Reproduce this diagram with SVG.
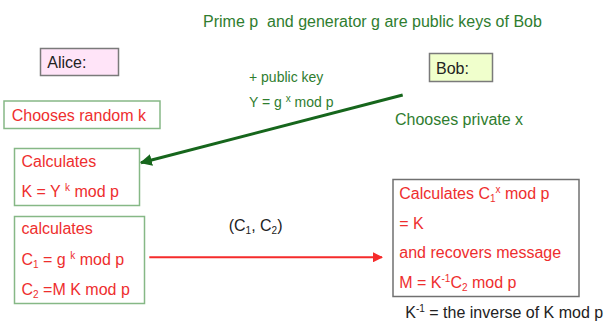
<svg xmlns="http://www.w3.org/2000/svg" width="611" height="323" viewBox="0 0 611 323">
<style>
text{font-family:"Liberation Sans",Arial,sans-serif;font-size:16px}
.g{fill:#2f7d2f}
.r{fill:#ee2e2e}
.k{fill:#222}
.sm{font-size:14px}
.sup{font-size:10px}
.gb{fill:#fff;stroke:#86b886;stroke-width:1.5}
</style>
<defs>
<marker id="ag" viewBox="0 0 10 10" refX="9" refY="5" markerWidth="4" markerHeight="4" orient="auto" markerUnits="strokeWidth"><path d="M0,0L10,5L0,10z" fill="#16661c"/></marker>
<marker id="ar" viewBox="0 0 10 10" refX="9" refY="5" markerWidth="5" markerHeight="5" orient="auto" markerUnits="strokeWidth"><path d="M0,0L10,5L0,10z" fill="#f52b2b"/></marker>
</defs>
<text class="g" x="203" y="26.5">Prime p&#160; and generator g are public keys of Bob</text>
<g id="alice">
<rect x="40.5" y="48.5" width="78" height="27" fill="#ffe4f8" stroke="#7a7a7a" stroke-width="1.5"/>
<text class="k" x="47.3" y="68.3">Alice:</text>
</g>
<g id="bob">
<rect x="429.5" y="53.5" width="63" height="28" fill="#f0ffcc" stroke="#7a7a7a" stroke-width="1.5"/>
<text class="k" x="436" y="74.3">Bob:</text>
</g>
<g id="random">
<rect class="gb" x="4" y="101" width="156" height="27.5"/>
<text class="r" x="11.7" y="121">Chooses random k</text>
</g>
<g id="private">
<text class="g" x="395" y="125">Chooses private x</text>
</g>
<g id="calcK">
<rect class="gb" x="14.5" y="148.5" width="125" height="57"/>
<text class="r" x="21.5" y="167.3">Calculates</text>
<text class="r" x="21.5" y="196.7">K = Y <tspan class="sup" dy="-6">k</tspan><tspan dy="6"> mod p</tspan></text>
</g>
<g id="calcC">
<rect class="gb" x="14.5" y="216.5" width="130" height="87"/>
<text class="r" x="21.5" y="234.3">calculates</text>
<text class="r" x="21.5" y="265">C<tspan class="sup" dy="3">1</tspan><tspan dy="-3"> = g </tspan><tspan class="sup" dy="-6">k</tspan><tspan dy="6"> mod p</tspan></text>
<text class="r" x="21.5" y="295">C<tspan class="sup" dy="3">2</tspan><tspan dy="-3"> =M K mod p</tspan></text>
</g>
<g id="decrypt">
<rect x="393" y="179.5" width="186" height="117" fill="#fff" stroke="#707070" stroke-width="1.5"/>
<text class="r" x="399.3" y="199">Calculates C<tspan class="sup" dy="3">1</tspan><tspan class="sup" dy="-9">x</tspan><tspan dy="6"> mod p</tspan></text>
<text class="r" x="399.3" y="229">= K</text>
<text class="r" x="399.3" y="258.3">and recovers message</text>
<text class="r" x="399.3" y="288.3">M = K<tspan class="sup" dy="-6">-1</tspan><tspan dy="6">C</tspan><tspan class="sup" dy="3">2</tspan><tspan dy="-3"> mod p</tspan></text>
</g>
<g id="labels">
<text class="g sm" x="249" y="81.7">+ public key</text>
<text class="g sm" x="249" y="106.7">Y = g <tspan class="sup" dy="-5">x</tspan><tspan dy="5"> mod p</tspan></text>
<text class="k" x="228.7" y="230.7" fill="#333">(C<tspan class="sup" dy="3">1</tspan><tspan dy="-3">, C</tspan><tspan class="sup" dy="3">2</tspan><tspan dy="-3">)</tspan></text>
<text class="k" x="405.3" y="318.3">K<tspan class="sup" dy="-6">-1</tspan><tspan dy="6"> = the inverse of K mod p</tspan></text>
</g>
<g id="connectors">
<line x1="402.7" y1="95" x2="141" y2="162.7" stroke="#16661c" stroke-width="3" marker-end="url(#ag)"/>
<line x1="149.3" y1="257.3" x2="382" y2="257.3" stroke="#f52b2b" stroke-width="2" marker-end="url(#ar)"/>
</g>
</svg>
